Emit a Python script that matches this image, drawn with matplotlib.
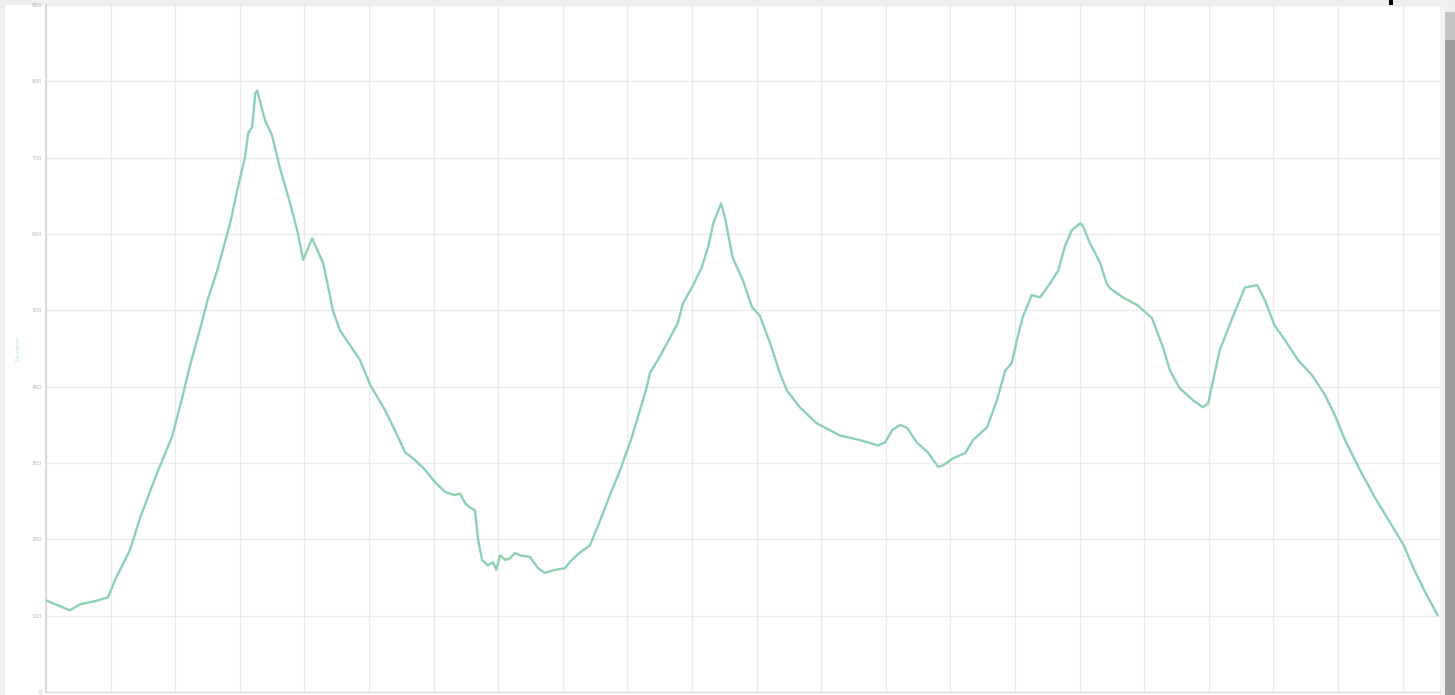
import matplotlib
matplotlib.use("Agg")
import matplotlib.pyplot as plt
from matplotlib.patches import Rectangle

# distance (grid units) and elevation values
distance = [0.00, 0.37, 0.53, 0.76, 0.96, 1.07, 1.30, 1.46, 1.72, 1.95, 2.11, 2.23, 2.38, 2.51,
            2.65, 2.85, 2.97, 3.08, 3.13, 3.19, 3.24, 3.27, 3.31, 3.39, 3.50, 3.62, 3.78, 3.90,
            3.98, 4.12, 4.29, 4.37, 4.44, 4.55, 4.71, 4.86, 5.02, 5.25, 5.40, 5.56, 5.71, 5.87,
            6.02, 6.18, 6.33, 6.41, 6.49, 6.56, 6.64, 6.69, 6.75, 6.84, 6.92, 6.97, 7.03, 7.11,
            7.18, 7.26, 7.34, 7.49, 7.62, 7.72, 7.88, 8.03, 8.14, 8.27, 8.42, 8.58, 8.73, 8.89,
            9.07, 9.30, 9.35, 9.50, 9.78, 9.86, 10.00, 10.15, 10.25, 10.33, 10.45, 10.51, 10.63,
            10.79, 10.93, 11.05, 11.21, 11.36, 11.47, 11.67, 11.93, 12.29, 12.60, 12.88, 12.99,
            13.10, 13.22, 13.33, 13.48, 13.65, 13.81, 13.89, 14.04, 14.23, 14.35, 14.57, 14.72,
            14.85, 14.95, 15.03, 15.12, 15.26, 15.39, 15.54, 15.67, 15.77, 15.88, 16.01, 16.05,
            16.16, 16.32, 16.42, 16.47, 16.67, 16.89, 17.12, 17.29, 17.40, 17.55, 17.76, 17.91,
            17.99, 18.17, 18.37, 18.56, 18.75, 18.87, 19.02, 19.18, 19.38, 19.60, 19.80, 19.95,
            20.11, 20.34, 20.57, 20.80, 21.02, 21.17, 21.35, 21.54]
elevation = [120, 107, 115, 119, 124, 147, 186, 229, 287, 334, 386, 428, 474, 516,
             552, 614, 661, 700, 732, 740, 784, 788, 775, 749, 729, 687, 640, 601,
             566, 594, 562, 530, 500, 474, 454, 435, 402, 369, 343, 314, 304, 291,
             275, 262, 258, 260, 247, 242, 238, 199, 173, 166, 170, 160, 179, 173,
             175, 182, 179, 177, 162, 156, 160, 162, 173, 183, 192, 225, 258, 291,
             334, 399, 418, 439, 483, 509, 530, 556, 583, 614, 640, 622, 569,
             539, 504, 493, 457, 418, 395, 373, 352, 336, 330, 323, 327,
             343, 350, 346, 327, 314, 295, 297, 306, 313, 330, 347, 382,
             421, 431, 461, 491, 520, 517, 535, 552, 583, 605, 614, 611,
             588, 562, 535, 529, 517, 507, 490, 452, 421, 398, 382, 373,
             378, 448, 491, 530, 533, 513, 480, 461, 435, 415, 389, 363,
             330, 291, 255, 223, 192, 162, 131, 101]

y_ticks = [0, 100, 200, 300, 400, 500, 600, 700, 800, 900]
x_ticks = list(range(0, 22))

W, H = 1455, 695
fig = plt.figure(figsize=(W / 100, H / 100), dpi=100)
fig.patch.set_facecolor("#efefef")

# white card, shadow and the small dark mark at the top
for rect in [
    Rectangle((5 / W, 0), (1440 - 5) / W, (H - 5) / H, facecolor="white"),
    Rectangle((1440 / W, 0), 5 / W, (H - 5) / H, facecolor="#f2f2f2"),
    Rectangle((1445 / W, (H - 40) / H), 10 / W, 28 / H, facecolor="#c4c4c4"),
    Rectangle((1445 / W, 0), 10 / W, (H - 40) / H, facecolor="#9c9c9c"),
]:
    rect.set_transform(fig.transFigure)
    rect.set_edgecolor("none")
    rect.set_zorder(-5)
    fig.patches.append(rect)

mark = Rectangle((1389 / W, (H - 5) / H), 4 / W, 5 / H, transform=fig.transFigure,
                 facecolor="black", edgecolor="none", zorder=10)
fig.patches.append(mark)

ax = fig.add_axes([46 / W, 3 / H, (1440 - 46) / W, (692 - 5) / H])
ax.set_zorder(1)
ax.set_facecolor("white")
ax.plot(distance, elevation, color="#8cd2b0", lw=1.7, zorder=3,
        solid_joinstyle="round")

ax.set_xlim(0, 21.58)
ax.set_ylim(0, 900)
ax.set_xticks(x_ticks)
ax.set_yticks(y_ticks)
ax.set_yticklabels([str(v) for v in y_ticks], fontsize=4, color="#b8b8b8")
ax.set_xticklabels([])
ax.tick_params(axis="y", length=0, pad=3)
ax.tick_params(axis="x", length=0)
ax.grid(True, color="#ebebeb", lw=1.0, zorder=0)
for side in ["top", "right"]:
    ax.spines[side].set_visible(False)
ax.spines["left"].set_color("#dadada")
ax.spines["left"].set_linewidth(1.5)
ax.spines["bottom"].set_color("#dcdcdc")
ax.spines["bottom"].set_linewidth(1.0)
ax.set_ylabel("Elevation", fontsize=4, color="#bfe6d2", labelpad=8)

fig.savefig("out.png", dpi=100, facecolor=fig.get_facecolor())
